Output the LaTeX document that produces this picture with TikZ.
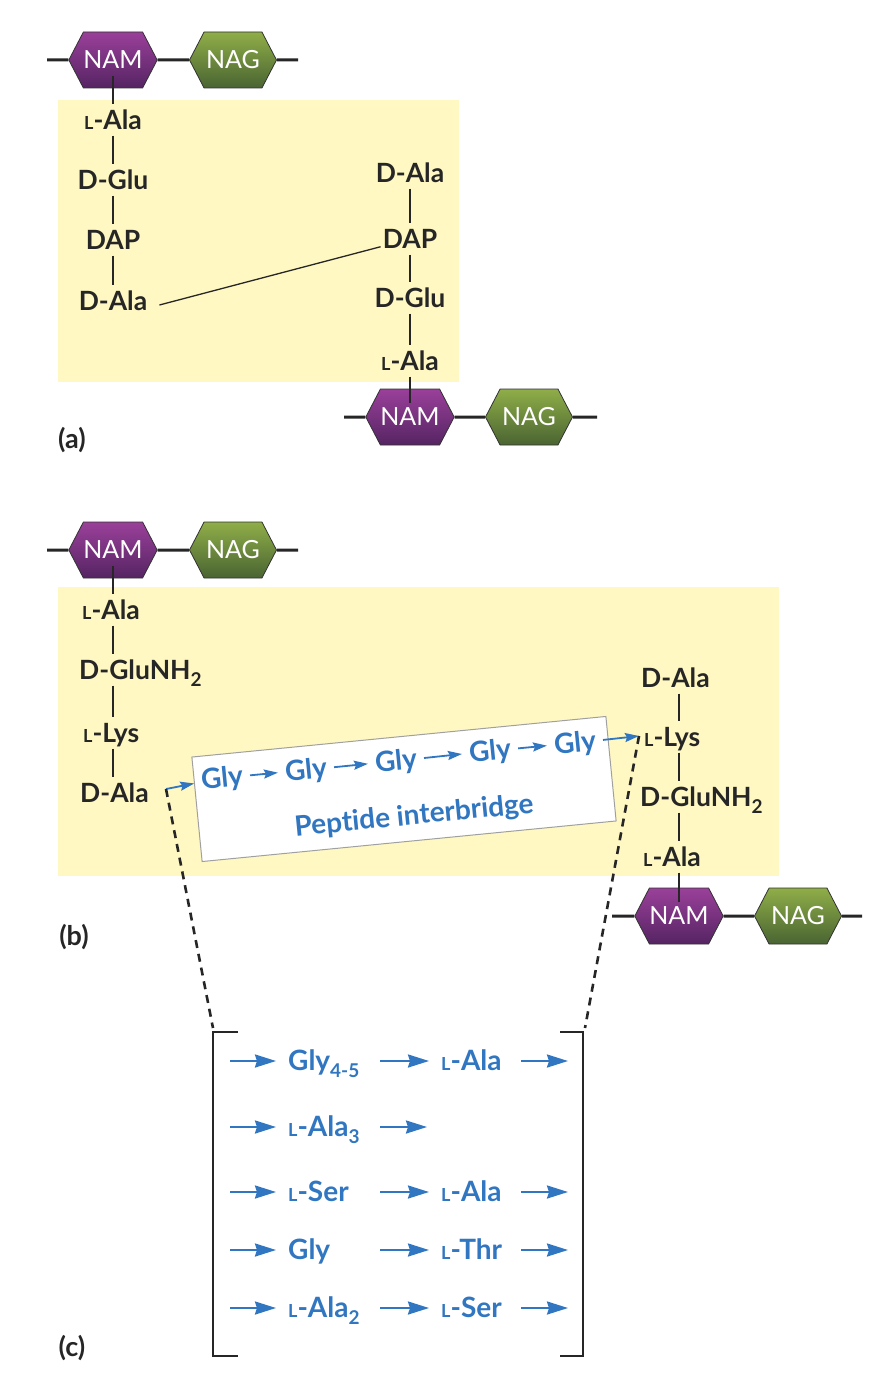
\documentclass[tikz,border=0pt]{standalone}
\usepackage{fontspec}
\setmainfont{Lato}[Ligatures=NoCommon]
\usepackage{xcolor}
\usepackage{tikz}
\usetikzlibrary{shapes.symbols, arrows.meta}

\definecolor{wallyellow}{HTML}{FFF8C2}
\definecolor{namtop}{HTML}{9A409A}
\definecolor{nambot}{HTML}{552462}
\definecolor{nagtop}{HTML}{8FAE48}
\definecolor{nagbot}{HTML}{4A6432}
\definecolor{bridgeblue}{HTML}{3176C0}
\definecolor{boxgrey}{HTML}{A0A0A0}

\newcommand{\Ls}{{\fontsize{18}{18}\selectfont L}}
\newcommand{\subtxt}[1]{\raisebox{-7pt}{\fontsize{19}{19}\selectfont #1}}

\tikzstyle{hexa} = [signal, signal to=east and west, signal pointer angle=125, minimum width=87pt, minimum height=56pt, inner sep=0pt, draw=black!80, line width=0.8pt, text=white, font=\fontsize{25}{25}\selectfont]
\tikzstyle{nam} = [hexa, top color=namtop, bottom color=nambot]
\tikzstyle{nag} = [hexa, top color=nagtop, bottom color=nagbot]
\tikzstyle{res} = [font=\bfseries\fontsize{26.5}{26.5}\selectfont, text=black!85, text height=19pt, text depth=0pt, inner xsep=2pt, inner ysep=6pt]
\tikzstyle{gly} = [res, font=\bfseries\fontsize{28}{28}\selectfont, text=bridgeblue, rotate=5.6, inner xsep=7pt]
\tikzstyle{seq} = [res, font=\bfseries\fontsize{28}{28}\selectfont, text=bridgeblue, inner xsep=12pt]
\tikzstyle{bond} = [line width=1.3pt, black!85]
\tikzstyle{chain} = [line width=3pt, black!85]
\tikzstyle{arrow} = [line width=2.2pt, bridgeblue, -{Stealth[length=21pt,width=13pt,inset=2pt]}]
\tikzstyle{garrow} = [line width=1.8pt, bridgeblue, -{Stealth[length=14pt,width=9pt,inset=2pt]}]
\tikzstyle{dashline} = [line width=2.6pt, black!85, dash pattern=on 8pt off 6pt]
\tikzstyle{bracket} = [line width=2.6pt, black!85]
\tikzstyle{panel} = [font=\bfseries\fontsize{27}{27}\selectfont, text=black!85]

\begin{document}
\begin{tikzpicture}[x=1pt, y=-1pt]
\useasboundingbox (0,0) rectangle (896,1394);

% (a) DAP direct cross-link
\fill[wallyellow] (58,100) rectangle (459,382);
\node[nam] (nam1) at (113,60) {NAM};
\node[nag] (nag1) at (233,60) {NAG};
\coordinate (c1l) at (47,60);
\coordinate (c1r) at (298,60);
\draw[chain] (c1l) -- (nam1) -- (nag1) -- (c1r);
\node[res] (la1) at (113,120) {\Ls-Ala};
\node[res] (dglu1) at (113,180) {D-Glu};
\node[res] (dap1) at (113,240) {DAP};
\node[res] (dala1) at (113,301) {D-Ala};
\draw[bond] ([yshift=-16pt]nam1.center) -- (la1);
\draw[bond] (la1) -- (dglu1) -- (dap1) -- (dala1);

\node[res] (dala2) at (410,173) {D-Ala};
\node[res] (dap2) at (410,239) {DAP};
\node[res] (dglu2) at (410,298) {D-Glu};
\node[res] (la2) at (410,361) {\Ls-Ala};
\node[nam] (nam2) at (410,417) {NAM};
\node[nag] (nag2) at (529,417) {NAG};
\coordinate (c2l) at (344,417);
\coordinate (c2r) at (597,417);
\draw[chain] (c2l) -- (nam2) -- (nag2) -- (c2r);
\draw[bond] (dala2) -- (dap2) -- (dglu2) -- (la2) -- ([yshift=14pt]nam2.center);
\draw[bond] ([xshift=10pt,yshift=-4pt]dala1.east) -- (dap2);
\node[panel] (lba) at (72,440) {(a)};

% (b) peptide interbridge
\fill[wallyellow] (58,587) rectangle (779,876);
\node[nam] (nam3) at (113,550) {NAM};
\node[nag] (nag3) at (233,550) {NAG};
\coordinate (c3l) at (47,550);
\coordinate (c3r) at (298,550);
\draw[chain] (c3l) -- (nam3) -- (nag3) -- (c3r);
\node[res, anchor=west] (la3) at (80,610) {\Ls-Ala};
\node[res, anchor=west] (glu3) at (77,670) {D-GluNH\subtxt{2}};
\node[res, anchor=west] (lys3) at (81,733) {\Ls-Lys};
\node[res, anchor=west] (dala3) at (78,793) {D-Ala};
\draw[bond] ([yshift=-16pt]nam3.center) -- (la3.north -| nam3);
\draw[bond] (la3.south -| nam3) -- (glu3.north -| nam3);
\draw[bond] (glu3.south -| nam3) -- (lys3.north -| nam3);
\draw[bond] (lys3.south -| nam3) -- (dala3.north -| nam3);

\node[res, anchor=west] (dala4) at (639,678) {D-Ala};
\node[res, anchor=west] (lys4) at (642,737) {\Ls-Lys};
\node[res, anchor=west] (glu4) at (638,797) {D-GluNH\subtxt{2}};
\node[res, anchor=west] (la4) at (641,857) {\Ls-Ala};
\node[nam] (nam4) at (679,916) {NAM};
\node[nag] (nag4) at (798,916) {NAG};
\coordinate (c4l) at (612,916);
\coordinate (c4r) at (862,916);
\draw[chain] (c4l) -- (nam4) -- (nag4) -- (c4r);
\draw[bond] (dala4.south -| nam4) -- (lys4.north -| nam4);
\draw[bond] (lys4.south -| nam4) -- (glu4.north -| nam4);
\draw[bond] (glu4.south -| nam4) -- (la4.north -| nam4);
\draw[bond] (la4.south -| nam4) -- ([yshift=14pt]nam4.center);

\node[draw=boxgrey, fill=white, line width=1pt, rotate=5.6, minimum width=416pt, minimum height=105pt] (ibox) at (404,789) {};
\node[gly] (g1) at (222,778) {Gly};
\node[gly] (g2) at (306,770) {Gly};
\node[gly] (g3) at (396,761) {Gly};
\node[gly] (g4) at (490,751) {Gly};
\node[gly] (g5) at (575,743) {Gly};
\node[gly] (pib) at (414,815) {Peptide interbridge};
\coordinate (j1) at (166,789);
\coordinate (j2) at (639,736);
\draw[garrow] (j1) -- (g1);
\draw[garrow] (g1) -- (g2);
\draw[garrow] (g2) -- (g3);
\draw[garrow] (g3) -- (g4);
\draw[garrow] (g4) -- (g5);
\draw[garrow] (g5) -- (j2);
\node[panel] (lbb) at (74,937) {(b)};

% (c) other interbridges
\coordinate (bl) at (213,1028);
\coordinate (br) at (585,1028);
\draw[dashline] (j1) -- (bl);
\draw[dashline] (j2) -- (br);
\draw[bracket] (238,1032) -- (213,1032) -- (213,1356) -- (238,1356);
\draw[bracket] (560,1032) -- (583,1032) -- (583,1356) -- (560,1356);

\node[seq, anchor=west, text width=80pt] (r1a) at (276,1061) {Gly\subtxt{4-5}};
\node[seq, anchor=west, text width=68pt] (r1b) at (429,1061) {\Ls-Ala};
\node[seq, anchor=west, text width=80pt] (r2a) at (276,1127) {\Ls-Ala\subtxt{3}};
\node[seq, anchor=west, text width=80pt] (r3a) at (276,1192) {\Ls-Ser};
\node[seq, anchor=west, text width=68pt] (r3b) at (429,1192) {\Ls-Ala};
\node[seq, anchor=west, text width=80pt] (r4a) at (276,1250) {Gly};
\node[seq, anchor=west, text width=68pt] (r4b) at (429,1250) {\Ls-Thr};
\node[seq, anchor=west, text width=80pt] (r5a) at (276,1308) {\Ls-Ala\subtxt{2}};
\node[seq, anchor=west, text width=68pt] (r5b) at (429,1308) {\Ls-Ser};
\coordinate (s1) at (230,1061);
\coordinate (s2) at (230,1127);
\coordinate (s3) at (230,1192);
\coordinate (s4) at (230,1250);
\coordinate (s5) at (230,1308);
\coordinate (e1) at (568,1061);
\coordinate (e2) at (427,1127);
\coordinate (e3) at (568,1192);
\coordinate (e4) at (568,1250);
\coordinate (e5) at (568,1308);
\draw[arrow] (s1) -- (r1a);
\draw[arrow] (r1a) -- (r1b);
\draw[arrow] (r1b) -- (e1);
\draw[arrow] (s2) -- (r2a);
\draw[arrow] (r2a) -- (e2);
\draw[arrow] (s3) -- (r3a);
\draw[arrow] (r3a) -- (r3b);
\draw[arrow] (r3b) -- (e3);
\draw[arrow] (s4) -- (r4a);
\draw[arrow] (r4a) -- (r4b);
\draw[arrow] (r4b) -- (e4);
\draw[arrow] (s5) -- (r5a);
\draw[arrow] (r5a) -- (r5b);
\draw[arrow] (r5b) -- (e5);
\node[panel] (lbc) at (72,1348) {(c)};
\end{tikzpicture}
\end{document}
